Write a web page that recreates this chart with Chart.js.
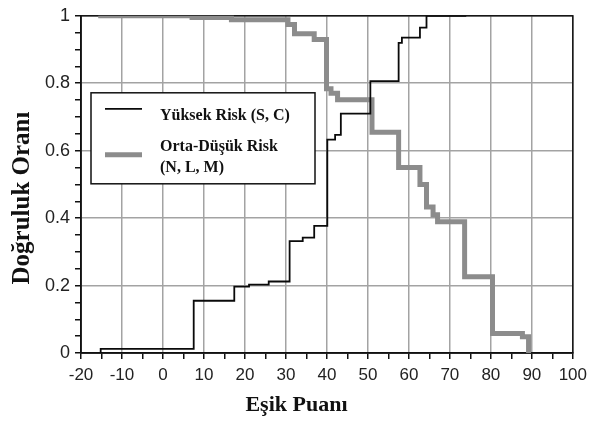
<!DOCTYPE html>
<html><head><meta charset="utf-8">
<script src="https://cdn.jsdelivr.net/npm/chart.js@4.4.1/dist/chart.umd.min.js"></script>
<style>html,body{margin:0;padding:0;background:#fff}#wrap{width:593px;height:425px}</style>
</head><body><div id="wrap"><canvas id="c" width="593" height="425"></canvas></div>
<script>
// ---- data ----
const seriesNames = ['Yüksek Risk (S, C)', ['Orta-Düşük Risk', '(N, L, M)']];
const xTitle = 'Eşik Puanı';
const yTitle = 'Doğruluk Oranı';
// Yüksek Risk (S, C) step points
const highX = [-15.2, -15.2, 7.5, 17.4, 21, 25.8, 30.9, 34.1, 36.9, 40.1, 42, 43.4, 50.6, 57.5, 58.3, 62.7, 64.3, 74];
const highY = [0.0, 0.012, 0.155, 0.197, 0.203, 0.212, 0.332, 0.342, 0.377, 0.633, 0.647, 0.71, 0.806, 0.92, 0.935, 0.965, 1.0, 1.0];
// Orta-Düşük Risk (N, L, M) step points
const midX = [-15.8, 7.1, 16.7, 30.5, 32.1, 36.9, 39.9, 41, 42.6, 51, 57.5, 62.7, 64.3, 65.9, 67, 73.6, 80.4, 87.7, 89.2];
const midY = [1.0, 0.995, 0.988, 0.974, 0.947, 0.93, 0.784, 0.77, 0.751, 0.655, 0.55, 0.50, 0.433, 0.41, 0.389, 0.226, 0.058, 0.048, 0.0];
const xMin = -20, xMax = 100, xMinor = 5, xMajor = 10;
const yMin = 0, yMax = 1, yMinor = 0.05, yMajor = 0.2;

const toPts = (xs, ys) => xs.map((x, i) => ({x: x, y: ys[i]}));

const gridGray = '#a3a3a3';

const framePlugin = {
  id: 'frame',
  beforeDatasetsDraw(chart) {
    const {ctx, chartArea: a} = chart;
    ctx.save();
    ctx.strokeStyle = '#111';
    ctx.lineWidth = 1.5;
    ctx.strokeRect(a.left, a.top, a.right - a.left, a.bottom - a.top);
    ctx.restore();
  }
};

const legendBox = {
  id: 'legendBox',
  afterDraw(chart) {
    const {ctx, chartArea: a} = chart;
    const x0 = a.left + 10, y0 = a.top + 77, w = 224, h = 91;
    ctx.save();
    ctx.fillStyle = '#fff';
    ctx.fillRect(x0, y0, w, h);
    ctx.strokeStyle = '#111';
    ctx.lineWidth = 1.5;
    ctx.strokeRect(x0, y0, w, h);
    ctx.font = 'bold 16px "Liberation Serif", "Times New Roman", serif';
    ctx.fillStyle = '#111';
    ctx.textBaseline = 'alphabetic';
    ctx.textAlign = 'left';
    const lineYs = [y0 + 16, y0 + 62];
    const textYs = [[y0 + 27], [y0 + 58.5, y0 + 79]];
    chart.data.datasets.forEach((ds, i) => {
      ctx.beginPath();
      ctx.strokeStyle = ds.borderColor;
      ctx.lineWidth = ds.borderWidth;
      ctx.moveTo(x0 + 14, lineYs[i]);
      ctx.lineTo(x0 + 51, lineYs[i]);
      ctx.stroke();
      const lines = Array.isArray(ds.label) ? ds.label : [ds.label];
      lines.forEach((t, j) => ctx.fillText(t, x0 + 69, textYs[i][j]));
    });
    ctx.restore();
  }
};

const isMult = (v, m) => Math.abs(v / m - Math.round(v / m)) < 1e-6;

new Chart(document.getElementById('c'), {
  type: 'line',
  data: {
    datasets: [
      {label: seriesNames[0], data: toPts(highX, highY), stepped: 'before',
       borderColor: '#0a0a0a', borderWidth: 1.8, pointRadius: 0, fill: false},
      {label: seriesNames[1], data: toPts(midX, midY), stepped: 'before',
       borderColor: '#8c8c8c', borderWidth: 5, pointRadius: 0, fill: false}
    ]
  },
  options: {
    responsive: false,
    animation: false,
    devicePixelRatio: 1,
    layout: {padding: {left: 0, right: 0, top: 0, bottom: 29}},
    plugins: {
      legend: {display: false},
      tooltip: {enabled: false},
      title: {
        display: true, text: xTitle, position: 'bottom', color: '#111',
        font: {family: '"Liberation Serif", "Times New Roman", serif', size: 22, weight: 'bold'},
        padding: {top: 8.8, bottom: -22.2}
      },
      subtitle: {
        display: true, text: yTitle, position: 'left', color: '#111',
        font: {family: '"Liberation Serif", "Times New Roman", serif', size: 25, weight: 'bold'},
        padding: {top: 8, bottom: 5}
      }
    },
    scales: {
      x: {
        type: 'linear', min: xMin, max: xMax,
        afterFit(s) { s.height = 30; },
        border: {display: true, color: '#111', width: 1.5},
        grid: {
          color: c => (c.tick && isMult(c.tick.value, xMajor)) ? gridGray : 'rgba(0,0,0,0)',
          lineWidth: 1.5, tickColor: '#111', tickLength: 6, drawTicks: true
        },
        ticks: {
          stepSize: xMinor, autoSkip: false, maxRotation: 0, padding: 6, color: '#222',
          font: {family: '"Liberation Sans", Arial, sans-serif', size: 17},
          callback: v => isMult(v, xMajor) ? String(v) : ''
        }
      },
      y: {
        type: 'linear', min: yMin, max: yMax,
        afterFit(s) { s.width = 38; },
        border: {display: true, color: '#111', width: 1.5},
        grid: {
          color: c => (c.tick && isMult(c.tick.value, yMajor)) ? gridGray : 'rgba(0,0,0,0)',
          lineWidth: 1.5, tickColor: '#111', tickLength: 6, drawTicks: true
        },
        ticks: {
          stepSize: yMinor, autoSkip: false, padding: 5, color: '#222',
          font: {family: '"Liberation Sans", Arial, sans-serif', size: 18},
          callback: v => isMult(v, yMajor) ? String(Math.round(v * 10) / 10) : ''
        }
      }
    }
  },
  plugins: [framePlugin, legendBox]
});
</script>
</body></html>
